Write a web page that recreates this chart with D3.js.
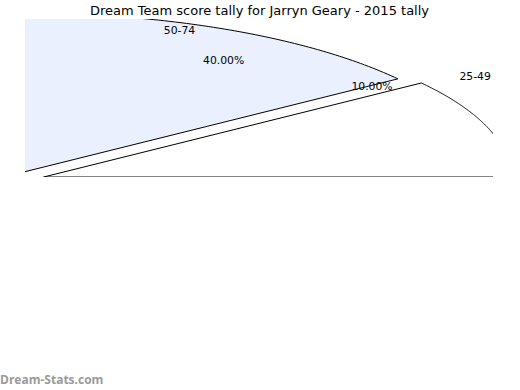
<!DOCTYPE html>
<html>
<head>
<meta charset="utf-8">
<script src="https://cdn.jsdelivr.net/npm/d3@7"></script>
<style>
  html, body { margin: 0; padding: 0; background: #fff; }
  svg { display: block; }
</style>
</head>
<body>
<svg id="chart" width="520" height="390"></svg>
<script>
// ---- data ----
const title = "Dream Team score tally for Jarryn Geary - 2015 tally";
const categories = ["25-49", "50-74"];
const values = [10, 40];           // percent of games (not normalised: sum < 100)
const pctLabels = ["10.00%", "40.00%"];
const colors = ["#ffffff", "#eaf0fd"];
const explode = [0.04, 0.04];
const watermark = "Dream-Stats.com";

// ---- layout ----
const clip = {x0: 25, x1: 493, y0: 19, y1: 177};
const svg = d3.select("#chart");

// wedge frame (ellipse-shaped pie, unit radius)
const cx = 25.8, cy = 179, rx = 467, ry = 160;
const xs = d3.scaleLinear().domain([0, 1]).range([cx, cx + rx]);
const ys = d3.scaleLinear().domain([0, 1]).range([cy, cy - ry]);
// text frame (labels were placed in a scaled frame)
const k = 0.394, tcx = 260, tcy = 98.5;
const txs = d3.scaleLinear().domain([0, 1]).range([tcx, tcx + rx * k]);
const tys = d3.scaleLinear().domain([0, 1]).range([tcy, tcy - ry * k]);

const total = 100;
const pie = d3.pie().sort(null).value(d => d)
  .startAngle(0).endAngle(2 * Math.PI * d3.sum(values) / total);
const arcs = pie(values);

svg.append("defs").append("clipPath").attr("id", "ax")
  .append("rect").attr("x", clip.x0).attr("y", clip.y0)
  .attr("width", clip.x1 - clip.x0).attr("height", clip.y1 - clip.y0);

const g = svg.append("g").attr("clip-path", "url(#ax)");

arcs.forEach((a, i) => {
  const t0 = a.startAngle, t1 = a.endAngle, tm = (t0 + t1) / 2;
  const ox = explode[i] * Math.cos(tm), oy = explode[i] * Math.sin(tm);
  const n = 200;
  const pts = [[xs(ox), ys(oy)]];
  for (let j = 0; j <= n; j++) {
    const t = t0 + (t1 - t0) * j / n;
    pts.push([xs(ox + Math.cos(t)), ys(oy + Math.sin(t))]);
  }
  g.append("path")
    .attr("d", "M" + pts.map(p => p.join(",")).join("L") + "Z")
    .attr("fill", colors[i])
    .attr("stroke", "#000")
    .attr("stroke-width", 1)
    .attr("stroke-linejoin", "miter");
});

arcs.forEach((a, i) => {
  const tm = (a.startAngle + a.endAngle) / 2;
  const ox = explode[i] * Math.cos(tm), oy = explode[i] * Math.sin(tm);
  const lx = txs(ox + 1.1 * Math.cos(tm)), ly = tys(oy + 1.1 * Math.sin(tm));
  svg.append("text")
    .attr("x", lx).attr("y", ly)
    .attr("dy", "0.35em")
    .attr("text-anchor", Math.cos(tm) > 0 ? "start" : "end")
    .attr("font-family", "DejaVu Sans")
    .attr("font-size", 10.8)
    .attr("fill", "#000")
    .text(categories[i]);
  const px = txs(ox + 0.6 * Math.cos(tm)), py = tys(oy + 0.6 * Math.sin(tm));
  svg.append("text")
    .attr("x", px).attr("y", py)
    .attr("dy", "0.35em")
    .attr("text-anchor", "middle")
    .attr("font-family", "DejaVu Sans")
    .attr("font-size", 10.8)
    .attr("fill", "#000")
    .text(pctLabels[i]);
});

svg.append("text")
  .attr("x", 259.5).attr("y", 15)
  .attr("text-anchor", "middle")
  .attr("font-family", "DejaVu Sans")
  .attr("font-size", 13)
  .attr("fill", "#000")
  .text(title);

svg.append("text")
  .attr("x", 0).attr("y", 384)
  .attr("font-family", "Open Sans")
  .attr("font-weight", "bold")
  .attr("font-size", 12)
  .attr("fill", "#9a9a9a")
  .text(watermark);
</script>
</body>
</html>
